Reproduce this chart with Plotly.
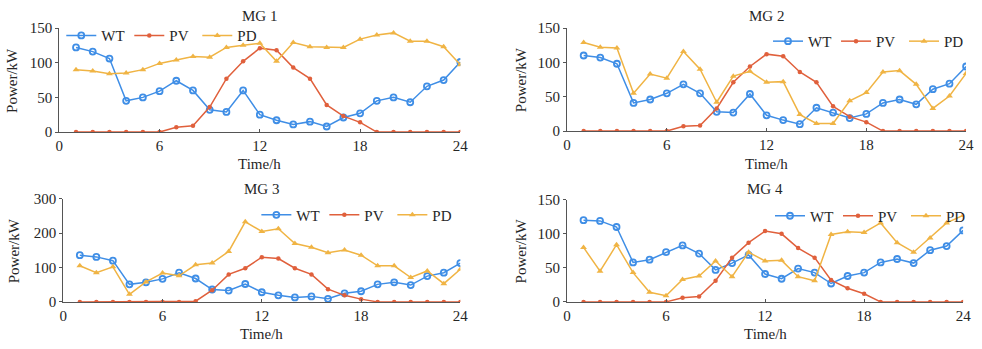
import plotly.graph_objects as go

hours = list(range(1, 25))
x_ticks = [0, 6, 12, 18, 24]

mg1_wt = [122, 116, 106, 45, 50, 59, 74, 60, 32, 29, 60, 25, 17, 11, 15, 8, 21, 27, 45, 50, 43, 66, 75, 101]
mg1_pv = [0, 0, 0, 0, 0, 0, 7, 9, 36, 77, 102, 121, 118, 93, 77, 39, 23, 14, 0, 0, 0, 0, 0, 0]
mg1_pd = [90, 88, 84, 85, 90, 99, 104, 109, 108, 122, 125, 128, 102, 129, 123, 122, 122, 134, 140, 143, 131, 131, 123, 97]

mg2_wt = [110, 107, 98, 41, 46, 55, 68, 55, 28, 27, 54, 23, 16, 10, 34, 27, 19, 25, 41, 46, 39, 61, 69, 94]
mg2_pv = [0, 0, 0, 0, 0, 0, 7, 8, 33, 71, 94, 112, 109, 86, 71, 36, 21, 13, 0, 0, 0, 0, 0, 0]
mg2_pd = [129, 122, 121, 55, 83, 77, 116, 90, 42, 80, 87, 71, 72, 24, 11, 11, 44, 56, 86, 88, 68, 33, 51, 84]

mg3_wt = [136, 131, 120, 51, 57, 67, 85, 68, 36, 33, 52, 28, 19, 13, 16, 9, 25, 31, 51, 57, 49, 75, 85, 113]
mg3_pv = [0, 0, 0, 0, 0, 0, 0, 2, 34, 80, 98, 130, 126, 98, 80, 37, 19, 8, 0, 0, 0, 0, 0, 0]
mg3_pd = [105, 85, 102, 22, 58, 84, 76, 108, 113, 147, 233, 205, 213, 170, 159, 143, 151, 136, 105, 105, 71, 90, 53, 95]

mg4_wt = [120, 119, 110, 58, 62, 73, 83, 71, 47, 57, 69, 41, 34, 49, 43, 27, 38, 43, 58, 63, 57, 76, 82, 105]
mg4_pv = [0, 0, 0, 0, 0, 0, 6, 8, 31, 65, 87, 104, 100, 79, 65, 32, 20, 12, 0, 0, 0, 0, 0, 0]
mg4_pd = [80, 45, 84, 43, 14, 9, 33, 38, 60, 37, 73, 60, 61, 37, 31, 99, 103, 102, 116, 87, 73, 94, 116, 127]

panels = [
    ("MG 1", mg1_wt, mg1_pv, mg1_pd, [0, 50, 100, 150]),
    ("MG 2", mg2_wt, mg2_pv, mg2_pd, [0, 50, 100, 150]),
    ("MG 3", mg3_wt, mg3_pv, mg3_pd, [0, 100, 200, 300]),
    ("MG 4", mg4_wt, mg4_pv, mg4_pd, [0, 50, 100, 150]),
]

W, H = 982, 349
def px(v):
    return v / W
def py(v):
    return 1 - v / H

# plot-area boxes in pixels: (x0, x1, ytop, ybottom)
boxes = [(56, 462, 21, 130), (570, 974, 21, 129), (60, 462, 200, 308), (570, 971, 201, 308)]
legend_pos = [(58, 29, "left"), (980, 35, "right"), (462, 217, "right"), (982, 218, "right")]
ylabel_x = [8, 523, 10, 523]
title_y = [8, 8, 190, 190]
xlabel_y = [164, 164, 342, 342]

BLUE = "#3f8ee6"
RED = "#e0603c"
GOLD = "#f0b444"
FONT = "Liberation Serif"
FS = 15
TXT = "#262626"

fig = go.Figure()
annotations = []
layout = {}

for i, (name, wt, pv, pd, yt) in enumerate(panels):
    n = "" if i == 0 else str(i + 1)
    xa, ya = "x" + n, "y" + n
    leg = "legend" + n
    fig.add_trace(go.Scatter(x=hours, y=wt, name="WT", xaxis=xa, yaxis=ya, legend=leg,
                             mode="lines+markers", line=dict(color=BLUE, width=1.5),
                             marker=dict(symbol="circle-open", size=6, color=BLUE, line=dict(width=1.8))))
    fig.add_trace(go.Scatter(x=hours, y=pv, name="PV", xaxis=xa, yaxis=ya, legend=leg,
                             mode="lines+markers", line=dict(color=RED, width=1.5),
                             marker=dict(symbol="circle", size=4.5, color=RED)))
    fig.add_trace(go.Scatter(x=hours, y=pd, name="PD", xaxis=xa, yaxis=ya, legend=leg,
                             mode="lines+markers", line=dict(color=GOLD, width=1.5),
                             marker=dict(symbol="triangle-up", size=6, color=GOLD)))
    x0, x1, yt0, yb0 = boxes[i]
    layout["xaxis" + n] = dict(domain=[px(x0), px(x1)], range=[0, 24], tickvals=x_ticks,
                               anchor=ya, showline=True, linecolor="#555555", linewidth=1.2,
                               showgrid=False, zeroline=False, ticks="inside", ticklen=3,
                               tickcolor="#555555", tickfont=dict(family=FONT, size=FS, color=TXT))
    layout["yaxis" + n] = dict(domain=[py(yb0), py(yt0)], range=[0, yt[-1]], tickvals=yt,
                               anchor=xa, showline=True, linecolor="#555555", linewidth=1.2,
                               showgrid=False, zeroline=False, ticks="outside", ticklen=3,
                               tickcolor="#555555", tickfont=dict(family=FONT, size=FS, color=TXT))
    lx, ly, anc = legend_pos[i]
    layout[leg] = dict(x=px(lx), y=py(ly), xanchor=anc, yanchor="middle", orientation="h",
                       bgcolor="rgba(0,0,0,0)", font=dict(family=FONT, size=FS, color=TXT),
                       itemwidth=30, entrywidth=23, tracegroupgap=0)
    annotations.append(dict(text=name, x=px((x0 + x1) / 2), y=py(title_y[i]), xref="paper", yref="paper",
                            showarrow=False, xanchor="center", yanchor="middle",
                            font=dict(family=FONT, size=FS, color=TXT)))
    annotations.append(dict(text="Time/h", x=px((x0 + x1) / 2), y=py(xlabel_y[i]), xref="paper", yref="paper",
                            showarrow=False, xanchor="center", yanchor="middle",
                            font=dict(family=FONT, size=FS, color=TXT)))
    annotations.append(dict(text="Power/kW", x=px(ylabel_x[i]), y=py((yt0 + yb0) / 2), xref="paper", yref="paper",
                            showarrow=False, xanchor="center", yanchor="middle", textangle=-90,
                            font=dict(family=FONT, size=FS, color=TXT)))

fig.update_layout(width=W, height=H, margin=dict(l=0, r=0, t=0, b=0),
                  paper_bgcolor="white", plot_bgcolor="white", showlegend=True,
                  annotations=annotations, **layout)

fig.write_html("out.html")
